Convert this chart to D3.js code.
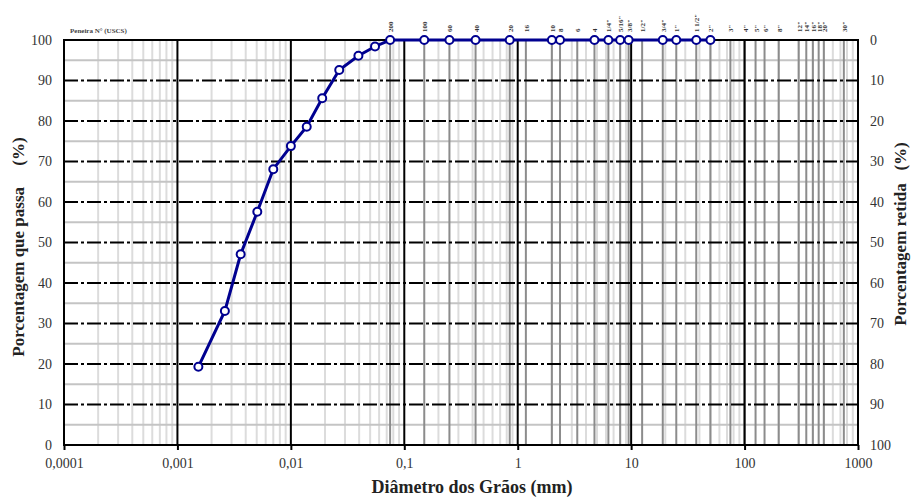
<!DOCTYPE html>
<html>
<head>
<meta charset="utf-8">
<script src="https://cdn.jsdelivr.net/npm/d3@7"></script>
<style>
  body { margin: 0; background: #fff; }
  text { font-family: "Liberation Serif", "Times New Roman", serif; }
</style>
</head>
<body>
<div id="chart"></div>
<script>
// Grain size curve (% passing)
const diameters = [0.00153, 0.00262, 0.00361, 0.00506, 0.0070, 0.0100, 0.0138, 0.0189, 0.0267, 0.0394, 0.0552,
  0.075, 0.15, 0.25, 0.425, 0.85, 2.0, 2.36, 4.75, 6.3, 8.0, 9.5, 19, 25, 37.5, 50];
const passing = [19.3, 33.1, 47.1, 57.6, 68.1, 73.8, 78.6, 85.6, 92.6, 96.1, 98.4,
  100, 100, 100, 100, 100, 100, 100, 100, 100, 100, 100, 100, 100, 100, 100];

// Sieve openings (mm) and labels
const sieveSizes = [0.075, 0.15, 0.25, 0.425, 0.85, 1.18, 2.0, 2.36, 3.35, 4.75, 6.3, 8.0, 9.5, 12.5, 19, 25, 37.5, 50,
  75, 100, 125, 150, 200, 300, 350, 400, 450, 500, 750];
const sieveLabels = ["200", "100", "60", "40", "20", "16", "10", "8", "6", "4", '1/4"', '5/16"', '3/8"', '1/2"', '3/4"', '1"', '1 1/2"', '2"',
  '3"', '4"', '5"', '6"', '8"', '12"', '14"', '16"', '18"', '20"', '30"'];

const xTicks = [0.0001, 0.001, 0.01, 0.1, 1, 10, 100, 1000];
const xTickLabels = ["0,0001", "0,001", "0,01", "0,1", "1", "10", "100", "1000"];
const yTicks = [0, 10, 20, 30, 40, 50, 60, 70, 80, 90, 100];

const width = 914, height = 500;
const plotL = 64, plotR = 858, plotT = 40, plotB = 445;

const svg = d3.select("#chart").append("svg")
  .attr("width", width)
  .attr("height", height);

const x = d3.scaleLog().domain([0.0001, 1000]).range([plotL, plotR]);
const y = d3.scaleLinear().domain([0, 100]).range([plotB, plotT]);
const yRet = d3.scaleLinear().domain([100, 0]).range([plotB, plotT]);

const grid = svg.append("g");

// minor vertical lines (2..9 per decade)
const minorX = [];
for (let e = -4; e < 3; e++) {
  for (let m = 2; m <= 9; m++) minorX.push(m * Math.pow(10, e));
}
grid.selectAll(".minor-x")
  .data(minorX)
  .join("line")
  .attr("x1", d => x(d)).attr("x2", d => x(d))
  .attr("y1", plotT).attr("y2", plotB)
  .attr("stroke", "#dcdcdc")
  .attr("stroke-width", 2);

// minor horizontal lines at 5s
grid.selectAll(".minor-y")
  .data(d3.range(5, 100, 10))
  .join("line")
  .attr("x1", plotL).attr("x2", plotR)
  .attr("y1", d => y(d)).attr("y2", d => y(d))
  .attr("stroke", "#c4c4c4")
  .attr("stroke-width", 2);

// sieve lines
grid.selectAll(".sieve")
  .data(sieveSizes)
  .join("line")
  .attr("x1", d => x(d)).attr("x2", d => x(d))
  .attr("y1", plotT).attr("y2", plotB)
  .attr("stroke", "#8c8c8c")
  .attr("stroke-width", 2);

// major horizontal lines
grid.selectAll(".major-y")
  .data(yTicks.slice(1, -1))
  .join("line")
  .attr("x1", plotL).attr("x2", plotR)
  .attr("y1", d => y(d)).attr("y2", d => y(d))
  .attr("stroke", "#000")
  .attr("stroke-width", 2)
  .attr("stroke-dasharray", "14,3,3,3");

// decade lines
grid.selectAll(".major-x")
  .data(xTicks)
  .join("line")
  .attr("x1", d => x(d)).attr("x2", d => x(d))
  .attr("y1", plotT).attr("y2", plotB)
  .attr("stroke", "#000")
  .attr("stroke-width", 2);

// frame
svg.append("rect")
  .attr("x", plotL).attr("y", plotT)
  .attr("width", plotR - plotL).attr("height", plotB - plotT)
  .attr("fill", "none")
  .attr("stroke", "#000")
  .attr("stroke-width", 2);

// bottom axis
const xAxis = d3.axisBottom(x)
  .tickValues(xTicks)
  .tickFormat((d, i) => xTickLabels[i])
  .tickSize(5)
  .tickPadding(8);
const gx = svg.append("g")
  .attr("transform", `translate(0,${plotB})`)
  .call(xAxis);
gx.select(".domain").remove();
gx.selectAll(".tick line").attr("stroke", "#000").attr("stroke-width", 2);
gx.selectAll("text").attr("font-size", 14).attr("fill", "#333")
  .style("font-family", "Liberation Serif");

// left axis
const gy = svg.append("g")
  .attr("transform", `translate(${plotL},0)`)
  .call(d3.axisLeft(y).tickValues(yTicks).tickSize(0).tickPadding(12));
gy.select(".domain").remove();
gy.selectAll("text").attr("font-size", 14).attr("fill", "#333")
  .style("font-family", "Liberation Serif");

// right axis
const gr = svg.append("g")
  .attr("transform", `translate(${plotR},0)`)
  .call(d3.axisRight(yRet).tickValues(yTicks).tickSize(0).tickPadding(12));
gr.select(".domain").remove();
gr.selectAll("text").attr("font-size", 14).attr("fill", "#333")
  .style("font-family", "Liberation Serif");

// sieve labels on top
svg.append("g").selectAll("text")
  .data(sieveSizes)
  .join("text")
  .attr("transform", d => `translate(${x(d) + 3},32) rotate(-90)`)
  .attr("text-anchor", "start")
  .attr("font-size", 7)
  .attr("font-weight", "bold")
  .attr("fill", "#333")
  .text((d, i) => sieveLabels[i]);

svg.append("text")
  .attr("x", 70).attr("y", 33)
  .attr("font-size", 7)
  .attr("font-weight", "bold")
  .attr("fill", "#444")
  .text("Peneira N°  (USCS)");

// curve
const line = d3.line()
  .x((d, i) => x(diameters[i]))
  .y(d => y(d));

svg.append("path")
  .datum(passing)
  .attr("d", line)
  .attr("fill", "none")
  .attr("stroke", "#000090")
  .attr("stroke-width", 3);

svg.append("g").selectAll("circle")
  .data(passing)
  .join("circle")
  .attr("cx", (d, i) => x(diameters[i]))
  .attr("cy", d => y(d))
  .attr("r", 4)
  .attr("fill", "#fff")
  .attr("stroke", "#000090")
  .attr("stroke-width", 2);

// axis titles
svg.append("text")
  .attr("transform", "translate(24,247) rotate(-90)")
  .attr("text-anchor", "middle")
  .attr("font-size", 17)
  .attr("font-weight", "bold")
  .attr("fill", "#222")
  .attr("xml:space", "preserve")
  .text("Porcentagem que passa     (%)");

svg.append("text")
  .attr("transform", "translate(906,234) rotate(-90)")
  .attr("text-anchor", "middle")
  .attr("font-size", 17)
  .attr("font-weight", "bold")
  .attr("fill", "#222")
  .attr("xml:space", "preserve")
  .text("Porcentagem retida   (%)");

svg.append("text")
  .attr("x", 472).attr("y", 493)
  .attr("text-anchor", "middle")
  .attr("font-size", 18)
  .attr("font-weight", "bold")
  .attr("fill", "#222")
  .text("Diâmetro dos Grãos (mm)");
</script>
</body>
</html>
